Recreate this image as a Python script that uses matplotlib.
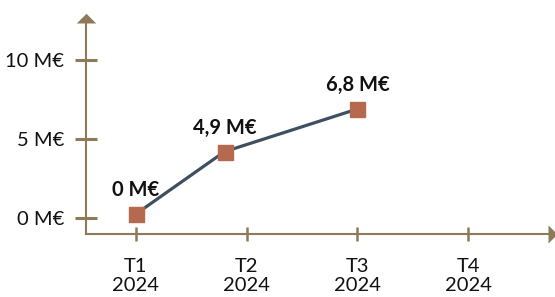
import matplotlib
matplotlib.use("Agg")
import matplotlib.pyplot as plt

# Data
categories = ["T1\n2024", "T2\n2024", "T3\n2024", "T4\n2024"]
x_pos = [0, 0.8, 2]            # plotted positions of the points
values = [0.25, 4.2, 6.9]      # plotted heights (M€)
point_labels = ["0 M€", "4,9 M€", "6,8 M€"]
y_ticks = [0, 5, 10]
y_ticklabels = ["0 M€", "5 M€", "10 M€"]

axis_col = "#8c7a5a"
line_col = "#3e5060"
marker_col = "#b56a50"
text_col = "#111111"

plt.rcParams['font.family'] = ['Lato', 'DejaVu Sans']

W, H = 555, 297
fig = plt.figure(figsize=(W / 100, H / 100), dpi=100)
left, right, top, bottom = 86, 548, 23, 233.5
ax = fig.add_axes([left / W, (H - bottom) / H, (right - left) / W, (bottom - top) / H])
ax.set_facecolor("none")

ax.plot(x_pos, values, color=line_col, lw=2.3, zorder=3, solid_capstyle='butt')
ax.plot(x_pos, values, ls='none', marker='s', ms=10.8, color=marker_col, zorder=4)
for x, v, t in zip(x_pos, values, point_labels):
    ax.annotate(t, (x, v), xytext=(0, 13), textcoords='offset points',
                ha='center', va='baseline', fontsize=14.5, fontweight='bold', color=text_col)

# keep same data-to-pixel scale as the reference
ax.set_xlim(-0.45, -0.45 + (right - left) / 110.8)
ax.set_ylim(-0.98, -0.98 + (bottom - top) / 15.8)

for s in ['top', 'right']:
    ax.spines[s].set_visible(False)
for s in ['left', 'bottom']:
    ax.spines[s].set_color(axis_col)
    ax.spines[s].set_linewidth(1.5)

ax.set_xticks(range(len(categories)))
ax.set_xticklabels(categories, fontsize=14.5, color=text_col, linespacing=1.15)
ax.set_yticks(y_ticks)
ax.set_yticklabels(y_ticklabels, fontsize=14.5, color=text_col)
ax.tick_params(axis='y', direction='inout', length=15.8, width=2.2, color=axis_col, pad=8)
ax.tick_params(axis='x', direction='inout', length=9.4, width=1.8, color=axis_col, pad=13)

# arrow heads (flat triangles, base on the axis end)
up_head = [(-1, 0), (1, 0), (0, 1), (-1, 0)]
right_head = [(0, -1), (0, 1), (1, 0), (0, -1)]
ax.plot(1, 0, marker=right_head, ms=13, color=axis_col, transform=ax.transAxes,
        clip_on=False, markeredgewidth=0)
ax.plot(0, 1, marker=up_head, ms=14, color=axis_col, transform=ax.transAxes,
        clip_on=False, markeredgewidth=0)

fig.savefig("out.png", dpi=100)
